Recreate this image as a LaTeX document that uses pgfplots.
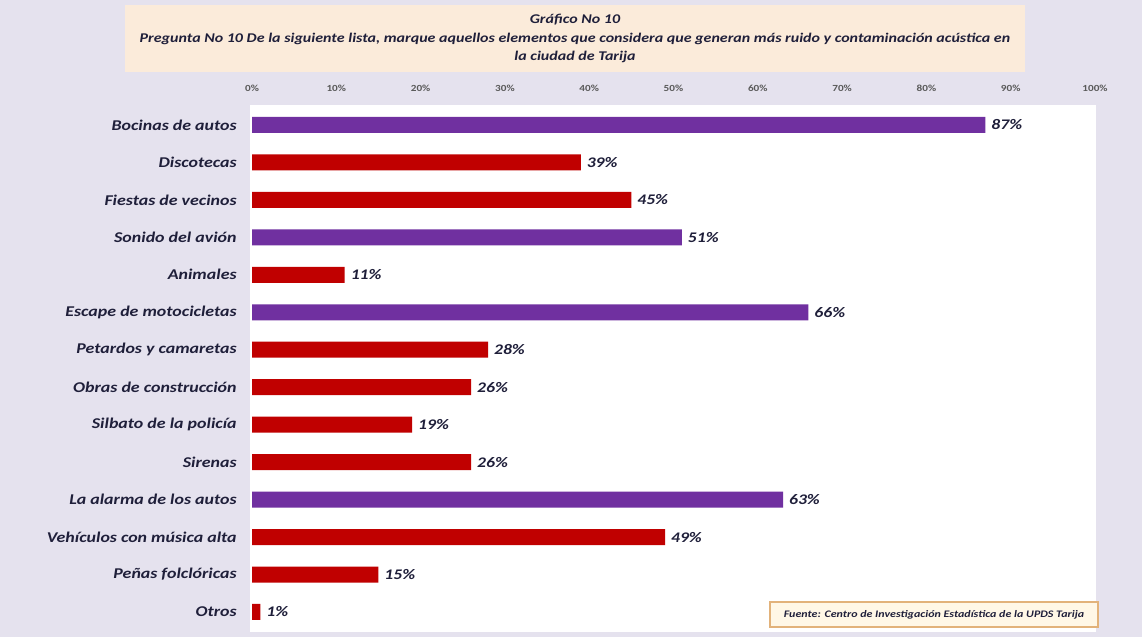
\documentclass[border=0pt]{standalone}
\usepackage{fontspec}
\setmainfont[FakeStretch=1.2]{Carlito}
\usepackage{pgfplots}
\pgfplotsset{compat=1.18}
\definecolor{bg}{HTML}{E5E2EE}
\definecolor{titlebg}{HTML}{FBEBDA}
\definecolor{navy}{HTML}{1F1F3A}
\definecolor{barred}{HTML}{C00000}
\definecolor{barpurple}{HTML}{7030A0}
\definecolor{srcbg}{HTML}{FFF7E6}
\definecolor{srcborder}{HTML}{E2B27A}
\begin{document}
\begin{tikzpicture}[x=0.75pt,y=0.75pt]
\fill[bg] (0,0) rectangle (1142,637);
\fill[titlebg] (125,565) rectangle (1025,632);
\node[align=center, font=\fontsize{10}{14.2}\selectfont\bfseries\itshape, text=navy, inner sep=0pt] at (575,598.5)
{Gráfico No 10\\Pregunta No 10 De la siguiente lista, marque aquellos elementos que considera que generan más ruido y contaminación acústica en\\la ciudad de Tarija};
\fill[white] (250,5) rectangle (1096,532);
\begin{axis}[
  at={(189pt,4.725pt)}, anchor=south west,
  width=632.25pt, height=397.6pt, scale only axis,
  xbar, bar width=12pt, bar shift=0pt,
  xmin=0, xmax=100, ymin=-0.65, ymax=13.5, y dir=reverse,
  axis line style={draw=none}, major tick length=0pt,
  /pgf/number format/assume math mode=true,
  xtick={0,10,...,100},
  xticklabels={0\%,10\%,20\%,30\%,40\%,50\%,60\%,70\%,80\%,90\%,100\%},
  xticklabel pos=upper,
  xticklabel style={font=\fontsize{7}{8}\selectfont\bfseries, text=gray!70!black, yshift=3pt},
  ytick={0,...,13},
  yticklabels={Bocinas de autos,Discotecas,Fiestas de vecinos,Sonido del avión,Animales,Escape de motocicletas,Petardos y camaretas,Obras de construcción,Silbato de la policía,Sirenas,La alarma de los autos,Vehículos con música alta,Peñas folclóricas,Otros},
  yticklabel style={font=\fontsize{11.2}{13}\selectfont\bfseries\itshape, text=navy, xshift=-8pt},
  nodes near coords={\pgfmathprintnumber{\pgfplotspointmeta}\%},
  point meta=x,
  nodes near coords style={font=\fontsize{11}{13}\selectfont\bfseries\itshape, text=navy, anchor=west, xshift=1pt},
  clip=false,
]
\addplot[draw=none, fill=barpurple] coordinates {(87,0) (51,3) (66,5) (63,10)};
\addplot[draw=none, fill=barred] coordinates {(39,1) (45,2) (11,4) (28,6) (26,7) (19,8) (26,9) (49,11) (15,12) (1,13)};
\end{axis}
\draw[srcborder, fill=srcbg, line width=0.8pt] (770,10) rectangle (1098,35);
\node[font=\fontsize{7.5}{9}\selectfont\bfseries\itshape, text=navy] at (934,22.5) {Fuente: Centro de Investigación Estadística de la UPDS Tarija};
\end{tikzpicture}
\end{document}
